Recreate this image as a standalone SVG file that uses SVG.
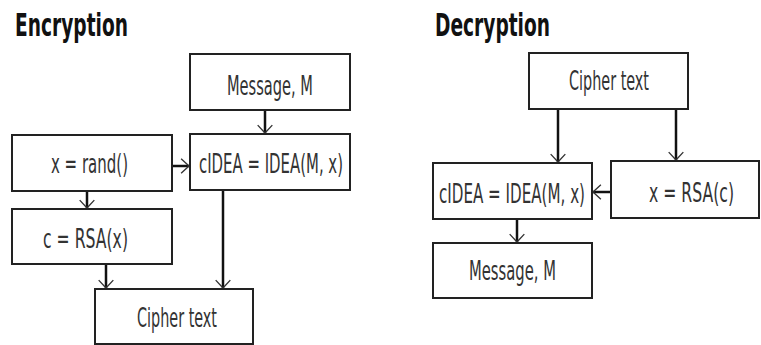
<svg xmlns="http://www.w3.org/2000/svg" width="761" height="345" viewBox="0 0 761 345">
  <style>
    .box { fill: #ffffff; stroke: #222222; stroke-width: 2; }
    .lbl { font-family: "DejaVu Sans Condensed", "DejaVu Sans", "Liberation Sans", sans-serif; font-stretch: condensed; font-size: 26px; fill: #333333; text-anchor: middle; }
    .title { font-family: "DejaVu Sans Condensed", "DejaVu Sans", "Liberation Sans", sans-serif; font-stretch: condensed; font-weight: bold; font-size: 32px; fill: #111111; }
    .edge { fill: none; stroke: #111111; stroke-width: 2.5; }
  </style>
  <defs>
    <marker id="arrow" markerUnits="userSpaceOnUse" markerWidth="18" markerHeight="18" refX="0" refY="0" viewBox="-10 -8 12 16" orient="auto">
      <path d="M -7 -6.5 L 0 0 L -7 6.5" fill="none" stroke="#333333" stroke-width="1.2"/>
    </marker>
  </defs>
  <rect width="761" height="345" fill="#ffffff"/>

  <!-- Section titles -->
  <text class="title" x="15" y="36" textLength="113" lengthAdjust="spacingAndGlyphs">Encryption</text>
  <text class="title" x="435" y="36" textLength="115" lengthAdjust="spacingAndGlyphs">Decryption</text>

  <!-- Connectors -->
  <g id="connectors">
    <!-- encryption -->
    <path class="edge" d="M 265 110 L 265 133" marker-end="url(#arrow)"/>
    <path class="edge" d="M 172 166 L 189 166" marker-end="url(#arrow)"/>
    <path class="edge" d="M 87 191 L 87 208" marker-end="url(#arrow)"/>
    <path class="edge" d="M 106 264 L 106 288" marker-end="url(#arrow)"/>
    <path class="edge" d="M 223 190 L 223 288" marker-end="url(#arrow)"/>
    <!-- decryption -->
    <path class="edge" d="M 558 109 L 558 162" marker-end="url(#arrow)"/>
    <path class="edge" d="M 676 109 L 676 160" marker-end="url(#arrow)"/>
    <path class="edge" d="M 611 192 L 593 192" marker-end="url(#arrow)"/>
    <path class="edge" d="M 517 219 L 517 242" marker-end="url(#arrow)"/>
  </g>

  <!-- Encryption nodes -->
  <g id="enc-message">
    <rect class="box" x="190" y="54" width="160" height="56"/>
    <text class="lbl" x="270" y="95" textLength="86" lengthAdjust="spacingAndGlyphs">Message, M</text>
  </g>
  <g id="enc-idea">
    <rect class="box" x="190" y="134" width="160" height="56"/>
    <text class="lbl" x="271" y="173" textLength="144" lengthAdjust="spacingAndGlyphs">cIDEA = IDEA(M, x)</text>
  </g>
  <g id="enc-rand">
    <rect class="box" x="12" y="135" width="160" height="56"/>
    <text class="lbl" x="89.5" y="173" textLength="77" lengthAdjust="spacingAndGlyphs">x = rand()</text>
  </g>
  <g id="enc-rsa">
    <rect class="box" x="12" y="209" width="160" height="55"/>
    <text class="lbl" x="85.5" y="248" textLength="85" lengthAdjust="spacingAndGlyphs">c = RSA(x)</text>
  </g>
  <g id="enc-cipher">
    <rect class="box" x="95" y="289" width="158" height="55"/>
    <text class="lbl" x="177" y="327" textLength="80" lengthAdjust="spacingAndGlyphs">Cipher text</text>
  </g>

  <!-- Decryption nodes -->
  <g id="dec-cipher">
    <rect class="box" x="529" y="53" width="159" height="56"/>
    <text class="lbl" x="609" y="90" textLength="80" lengthAdjust="spacingAndGlyphs">Cipher text</text>
  </g>
  <g id="dec-idea">
    <rect class="box" x="433" y="163" width="159" height="56"/>
    <text class="lbl" x="512" y="203" textLength="146" lengthAdjust="spacingAndGlyphs">cIDEA = IDEA(M, x)</text>
  </g>
  <g id="dec-rsa">
    <rect class="box" x="611" y="161" width="148" height="57"/>
    <text class="lbl" x="691.5" y="202" textLength="85" lengthAdjust="spacingAndGlyphs">x = RSA(c)</text>
  </g>
  <g id="dec-message">
    <rect class="box" x="433" y="243" width="159" height="55"/>
    <text class="lbl" x="512.5" y="280" textLength="87" lengthAdjust="spacingAndGlyphs">Message, M</text>
  </g>
</svg>
